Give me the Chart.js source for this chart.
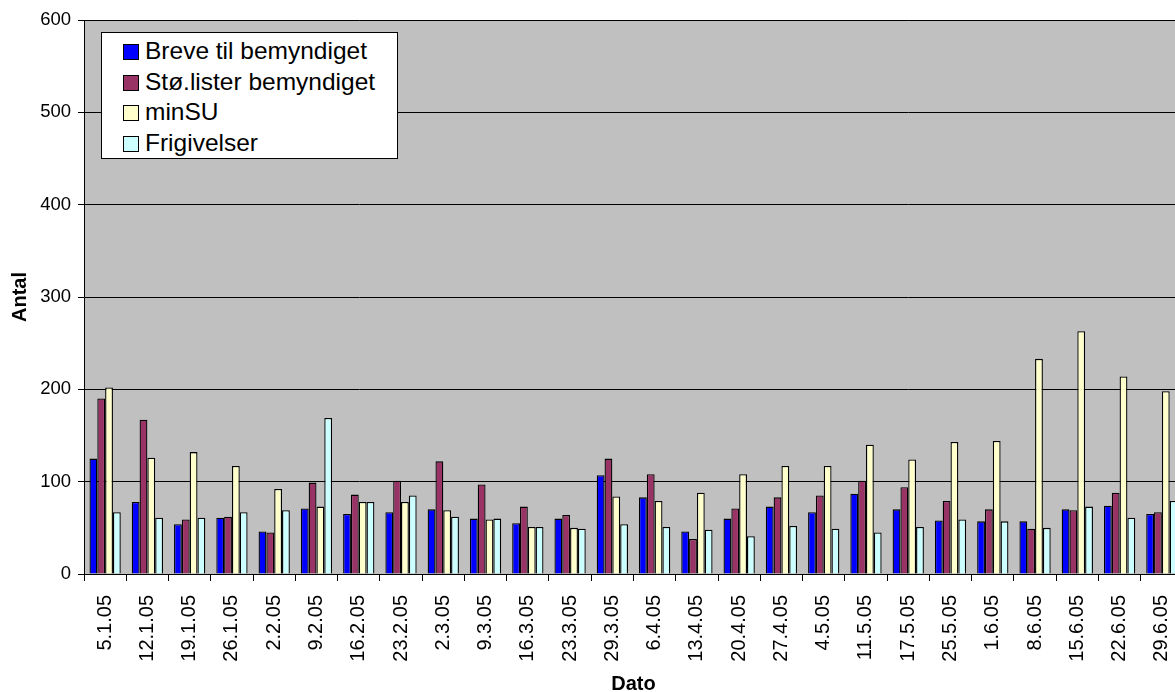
<!DOCTYPE html>
<html>
<head>
<meta charset="utf-8">
<script src="https://cdn.jsdelivr.net/npm/chart.js@4"></script>
<style>
  html, body { margin: 0; padding: 0; background: #fff; overflow: hidden; }
  #wrap { position: relative; width: 1185px; height: 692px; }
  #legend {
    position: absolute; left: 101px; top: 32px; width: 295px; height: 125px;
    background: #fff; border: 1px solid #000;
    font-family: "Liberation Sans", Arial, sans-serif; font-size: 24.5px; color: #000;
  }
  .item { position: absolute; left: 21px; height: 30px; line-height: 30px; white-space: nowrap; }
  .sw { display: inline-block; width: 14px; height: 14px; border: 1px solid #000; vertical-align: -1px; margin-right: 6px; }
</style>
</head>
<body>
<div id="wrap">
  <canvas id="myChart" width="1185" height="692"></canvas>
  <div id="legend"></div>
</div>
<script>
// data
const datoer = ['5.1.05','12.1.05','19.1.05','26.1.05','2.2.05','9.2.05','16.2.05','23.2.05','2.3.05','9.3.05','16.3.05','23.3.05','29.3.05','6.4.05','13.4.05','20.4.05','27.4.05','4.5.05','11.5.05','17.5.05','25.5.05','1.6.05','8.6.05','15.6.05','22.6.05','29.6.05'];
const breve = [125,78,54,61,46,71,65,67,70,60,55,60,107,83,46,60,73,67,87,70,58,57,57,70,74,65];
const stoLister = [190,167,59,62,45,99,86,101,122,97,73,64,125,108,38,71,83,85,101,94,79,70,49,69,88,67];
const minSU = [202,126,132,117,92,73,78,78,69,59,51,50,84,79,88,108,117,117,140,124,143,144,233,263,214,198];
const frigivelser = [67,61,61,67,69,169,78,85,62,60,51,49,54,51,48,41,52,49,45,51,59,57,50,73,61,79];
const yTicks = [0,100,200,300,400,500,600];

const serier = [
  {label: 'Breve til bemyndiget', data: breve, color: '#0000FF'},
  {label: 'Stø.lister bemyndiget', data: stoLister, color: '#993366'},
  {label: 'minSU', data: minSU, color: '#FFFFCC'},
  {label: 'Frigivelser', data: frigivelser, color: '#CCFFFF'}
];

const font = "'Liberation Sans', Arial, sans-serif";

// legend box inside plot
const leg = document.getElementById('legend');
serier.forEach((s, i) => {
  const d = document.createElement('div');
  d.className = 'item';
  d.style.top = (3 + i * 30.7) + 'px';
  d.innerHTML = '<span class="sw" style="background:' + s.color + '"></span>' + s.label;
  leg.appendChild(d);
});

const plotBg = {
  id: 'plotBg',
  beforeDraw(chart) {
    const a = chart.chartArea, c = chart.ctx;
    c.save();
    c.fillStyle = '#C0C0C0';
    c.fillRect(a.left, a.top, a.right - a.left, a.bottom - a.top);
    c.strokeStyle = '#808080';
    c.lineWidth = 1;
    c.beginPath();
    c.moveTo(a.left, a.top + 0.5);
    c.lineTo(a.right, a.top + 0.5);
    c.stroke();
    c.restore();
  }
};

new Chart(document.getElementById('myChart'), {
  type: 'bar',
  data: {
    labels: datoer,
    datasets: serier.map(s => ({
      label: s.label,
      data: s.data,
      backgroundColor: s.color,
      borderColor: '#000',
      borderWidth: 1.3,
      barPercentage: 1,
      categoryPercentage: 0.74
    }))
  },
  options: {
    responsive: false,
    animation: false,
    devicePixelRatio: 1,
    layout: { padding: { top: 20, right: 2, left: 0, bottom: 0 } },
    plugins: { legend: { display: false }, tooltip: { enabled: false } },
    scales: {
      x: {
        afterFit(scale) {
          scale.height = 118;
          scale.paddingLeft = 0;
          scale.paddingRight = 0;
        },
        grid: { display: true, drawOnChartArea: false, offset: true, tickLength: 7, color: '#000' },
        border: { display: true, color: '#000' },
        ticks: { color: '#000', font: { family: font, size: 20 }, maxRotation: 90, minRotation: 90, autoSkip: false, padding: 14 },
        title: { display: true, text: 'Dato', color: '#000', font: { family: font, size: 20, weight: 'bold' }, padding: { top: 0, bottom: -4 } }
      },
      y: {
        min: 0, max: 600,
        afterFit(scale) { scale.width = 84; },
        afterBuildTicks(scale) { scale.ticks = yTicks.map(v => ({ value: v })); },
        grid: { color: '#000', tickLength: 6, drawTicks: true },
        border: { display: true, color: '#000' },
        ticks: { color: '#000', font: { family: font, size: 18.5 }, padding: 7 },
        title: { display: true, text: 'Antal', color: '#000', font: { family: font, size: 20, weight: 'bold' }, padding: { top: 8, bottom: 0 } }
      }
    }
  },
  plugins: [plotBg]
});
</script>
</body>
</html>
